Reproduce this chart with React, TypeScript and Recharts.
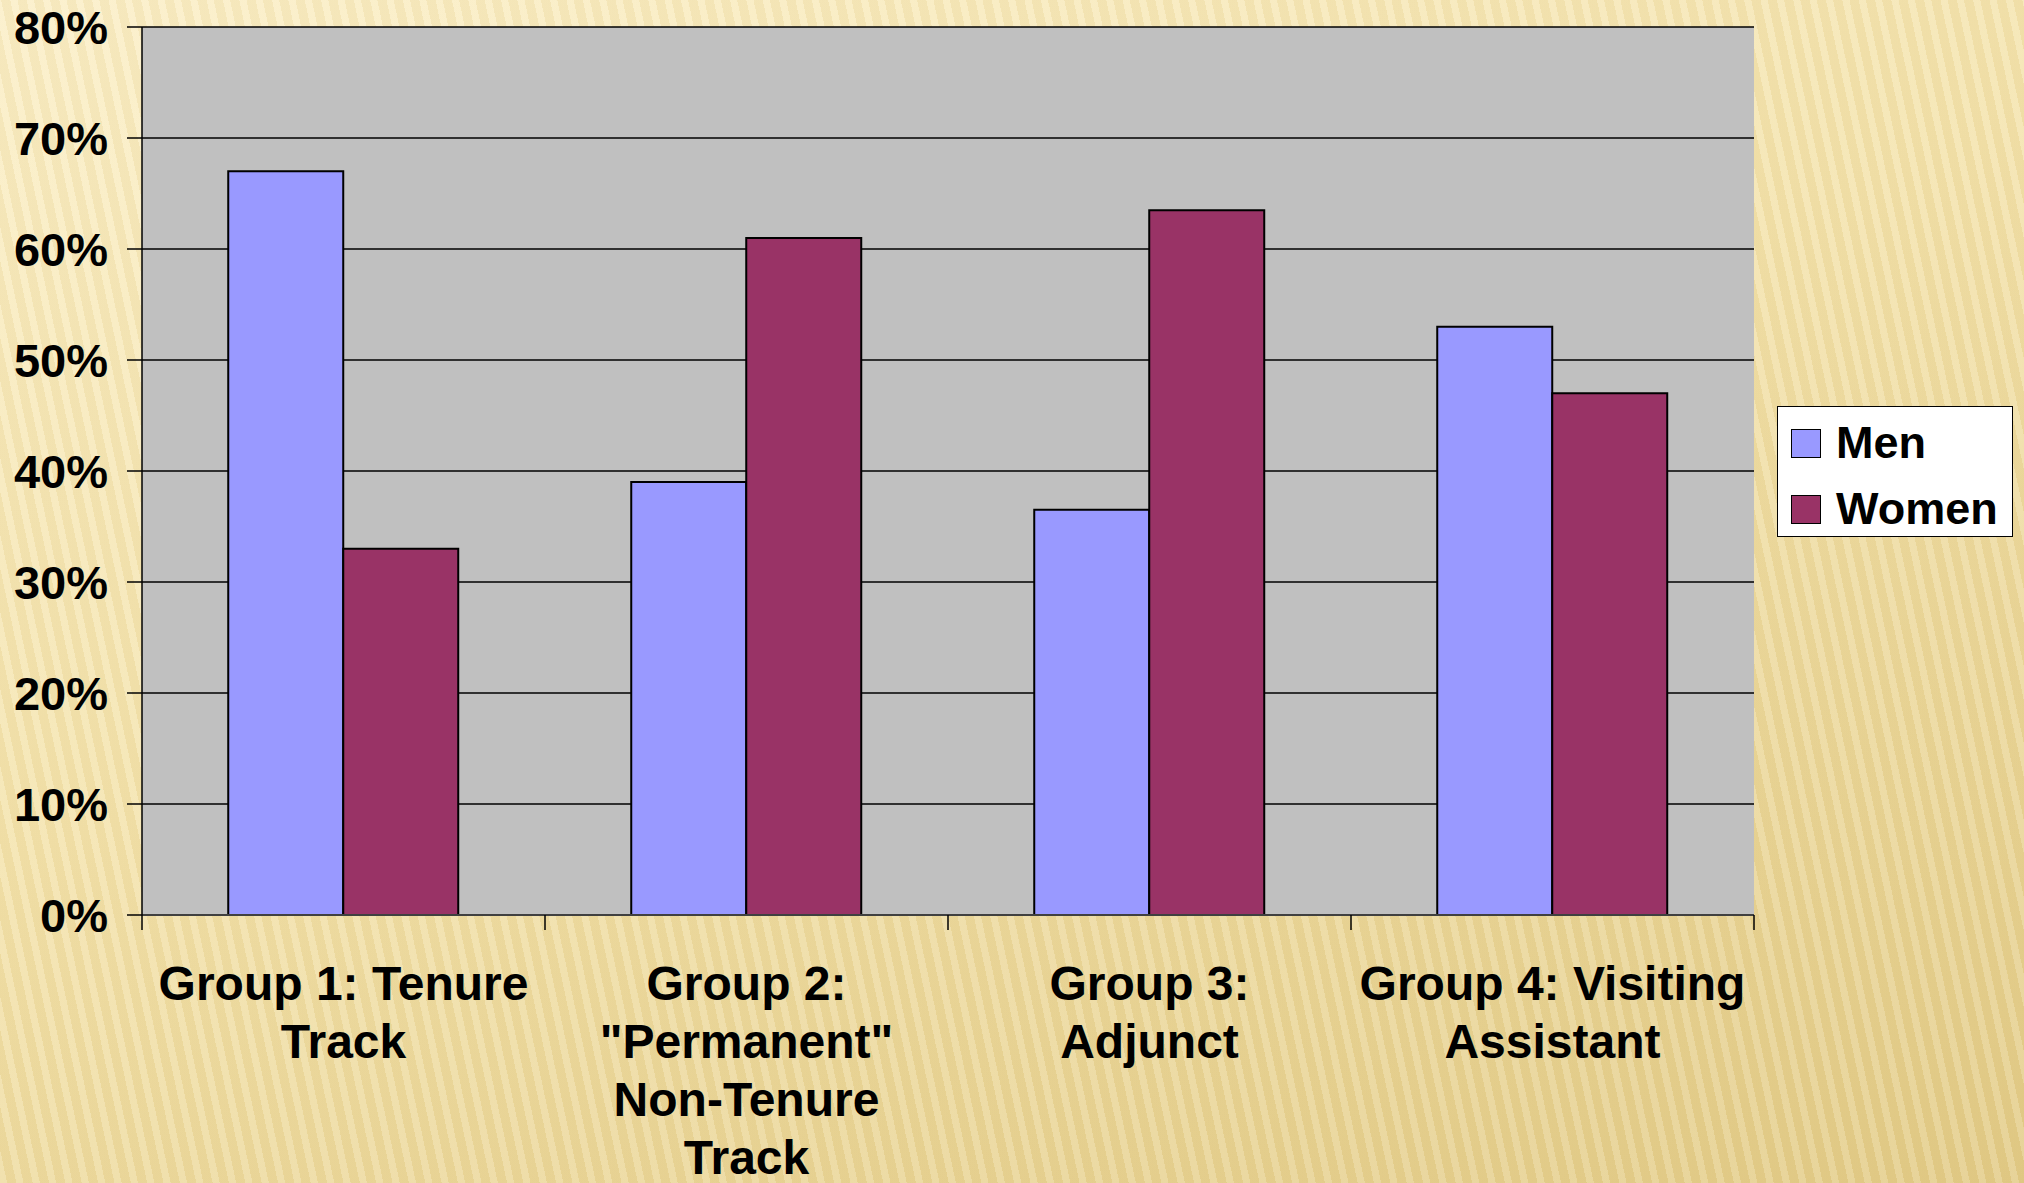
import React from 'react';
import {
  BarChart,
  Bar,
  XAxis,
  YAxis,
  CartesianGrid,
  Legend
} from 'recharts';

const categories = [
  'Group 1: Tenure\nTrack',
  'Group 2:\n"Permanent"\nNon-Tenure\nTrack',
  'Group 3:\nAdjunct',
  'Group 4: Visiting\nAssistant'
];
const men = [67, 39, 36.5, 53];
const women = [33, 61, 63.5, 47];
const yTicks = [0, 10, 20, 30, 40, 50, 60, 70, 80];

const data = categories.map((name, i) => ({ name, men: men[i], women: women[i] }));

const W = 2024;
const H = 1183;
const margin = { top: 27, right: 270, left: 0, bottom: 0 };
const Y_WIDTH = 142;
const FONT = '"Liberation Sans", Arial, sans-serif';
const halfBand = (W - margin.left - margin.right - Y_WIDTH) / categories.length / 2;

const XTick = (props: any) => {
  const { x, y, payload, index } = props;
  const lines = String(payload.value).split('\n');
  return (
    <g>
      <line x1={x - halfBand} x2={x - halfBand} y1={y} y2={y + 15} stroke="#000" strokeWidth={1.5} />
      {index === categories.length - 1 && (
        <line x1={x + halfBand} x2={x + halfBand} y1={y} y2={y + 15} stroke="#000" strokeWidth={1.5} />
      )}
      <text
        x={x}
        y={y + 85}
        textAnchor="middle"
        fill="#000"
        fontSize={48}
        fontWeight="bold"
        fontFamily={FONT}
      >
        {lines.map((l, i) => (
          <tspan key={i} x={x} dy={i === 0 ? 0 : 58}>{l}</tspan>
        ))}
      </text>
    </g>
  );
};

const LegendBox = (props: any) => {
  const { payload } = props;
  return (
    <div
      style={{
        position: 'relative',
        width: 236,
        height: 131,
        boxSizing: 'border-box',
        background: '#fff',
        border: '1.5px solid #000',
        fontFamily: FONT
      }}
    >
      {(payload || []).map((p: any, i: number) => (
        <div
          key={p.value}
          style={{
            position: 'absolute',
            left: 13,
            top: 21 + i * 66,
            height: 30,
            display: 'flex',
            alignItems: 'center'
          }}
        >
          <div
            style={{
              width: 30,
              height: 29,
              boxSizing: 'border-box',
              background: p.color,
              border: '1.5px solid #000'
            }}
          />
          <span style={{ marginLeft: 15, fontSize: 45, fontWeight: 'bold', color: '#000', lineHeight: '30px' }}>
            {p.value}
          </span>
        </div>
      ))}
    </div>
  );
};

export default function App() {
  return (
    <div
      style={{
        position: 'absolute',
        left: 0,
        top: 0,
        width: W,
        height: H,
        overflow: 'hidden',
        background:
          'repeating-linear-gradient(78deg, rgba(255,255,255,0.14) 0px, rgba(255,255,255,0.14) 7px, rgba(150,110,20,0.05) 7px, rgba(150,110,20,0.05) 16px), linear-gradient(160deg, #FBEFC7 0%, #F4E3AC 45%, #E3CC88 100%)'
      }}
    >
      <BarChart
        width={W}
        height={H}
        data={data}
        margin={margin}
        barCategoryGap="21.4%"
        barGap={0}
      >
        <CartesianGrid vertical={false} stroke="#000" strokeWidth={1.5} fill="#C0C0C0" fillOpacity={1} />
        <XAxis
          dataKey="name"
          height={268}
          axisLine={{ stroke: '#404040', strokeWidth: 2 }}
          tickLine={false}
          tickSize={0}
          tickMargin={0}
          interval={0}
          tick={<XTick />}
        />
        <XAxis
          xAxisId="top"
          orientation="top"
          dataKey="name"
          height={0}
          tick={false}
          tickLine={false}
          axisLine={{ stroke: '#808080', strokeWidth: 2 }}
        />
        <YAxis
          width={Y_WIDTH}
          domain={[0, 80]}
          ticks={yTicks}
          interval={0}
          tickFormatter={(v) => `${v}%`}
          tickSize={15}
          tickMargin={19}
          axisLine={{ stroke: '#000', strokeWidth: 1.5 }}
          tickLine={{ stroke: '#000', strokeWidth: 1.5 }}
          tick={{ fontSize: 47, fontWeight: 'bold', fill: '#000', fontFamily: FONT }}
        />
        <YAxis
          yAxisId="right"
          orientation="right"
          width={0}
          domain={[0, 80]}
          tick={false}
          tickLine={false}
          axisLine={{ stroke: '#808080', strokeWidth: 2 }}
        />
        <Legend
          layout="vertical"
          align="center"
          verticalAlign="middle"
          wrapperStyle={{ left: 1777, top: 406, width: 236, height: 131 }}
          content={<LegendBox />}
        />
        <Bar dataKey="men" name="Men" fill="#9999FF" stroke="#000" strokeWidth={2} isAnimationActive={false} />
        <Bar dataKey="women" name="Women" fill="#993366" stroke="#000" strokeWidth={2} isAnimationActive={false} />
      </BarChart>
    </div>
  );
}
